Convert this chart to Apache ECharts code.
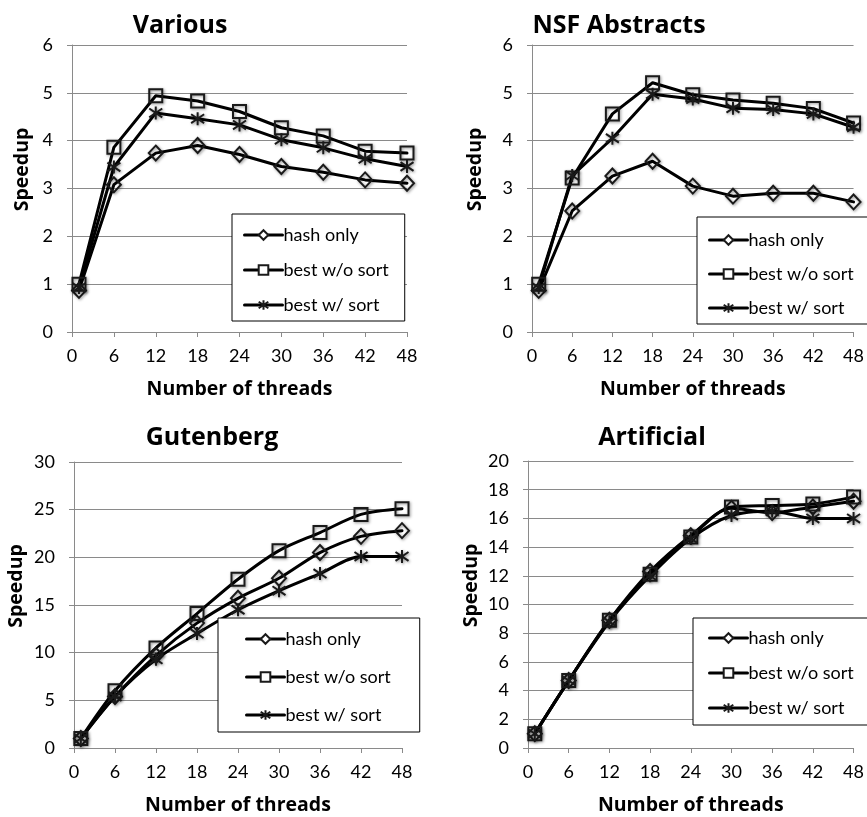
<!DOCTYPE html>
<html>
<head>
<meta charset="utf-8">
<script src="https://cdn.jsdelivr.net/npm/echarts@6/dist/echarts.min.js"></script>
<style>
  html, body { margin: 0; padding: 0; background: #ffffff; }
  #chart { width: 867px; height: 817px; }
</style>
</head>
<body>
<div id="chart"></div>
<script>
// Thread counts measured on the x axis
const threads = [1, 6, 12, 18, 24, 30, 36, 42, 48];
const seriesNames = ['hash only', 'best w/o sort', 'best w/ sort'];
const panelTitles = ['Various', 'NSF Abstracts', 'Gutenberg', 'Artificial'];

// Speedup per data set
const variousHash = [0.87, 3.08, 3.74, 3.90, 3.71, 3.46, 3.34, 3.18, 3.11];
const variousNoSort = [1.00, 3.86, 4.94, 4.83, 4.61, 4.27, 4.10, 3.78, 3.74];
const variousSort = [0.93, 3.45, 4.58, 4.46, 4.33, 4.02, 3.85, 3.62, 3.46];

const nsfHash = [0.87, 2.53, 3.26, 3.57, 3.05, 2.84, 2.90, 2.90, 2.72];
const nsfNoSort = [1.00, 3.22, 4.56, 5.21, 4.96, 4.85, 4.78, 4.67, 4.37];
const nsfSort = [0.93, 3.27, 4.05, 4.97, 4.87, 4.68, 4.65, 4.56, 4.28];

const gutenbergHash = [1.0, 5.4, 9.7, 13.1, 15.7, 17.8, 20.5, 22.2, 22.8];
const gutenbergNoSort = [1.0, 6.0, 10.5, 14.1, 17.7, 20.7, 22.6, 24.5, 25.1];
const gutenbergSort = [1.0, 5.4, 9.3, 12.0, 14.5, 16.5, 18.3, 20.1, 20.1];

const artificialHash = [1.0, 4.7, 8.9, 12.3, 14.8, 16.7, 16.4, 16.8, 17.2];
const artificialNoSort = [1.0, 4.7, 8.9, 12.1, 14.7, 16.8, 16.9, 17.0, 17.5];
const artificialSort = [1.0, 4.7, 8.8, 12.0, 14.6, 16.2, 16.5, 16.0, 16.0];

// y-axis ranges per panel
const yMax = [6, 6, 30, 20];
const yStep = [1, 1, 5, 2];

const panelData = [
  [variousHash, variousNoSort, variousSort],
  [nsfHash, nsfNoSort, nsfSort],
  [gutenbergHash, gutenbergNoSort, gutenbergSort],
  [artificialHash, artificialNoSort, artificialSort]
];

// ---- layout and styling ----
const FONT = 'Lato, "Open Sans", sans-serif';
const BOLD_FONT = '"Open Sans", Lato, sans-serif';
const GRID_COLOR = '#8a8a8a';

const grids = [
  { left: 72, top: 45, width: 335, height: 287 },
  { left: 532, top: 45, width: 328, height: 287 },
  { left: 74, top: 462, width: 328, height: 286 },
  { left: 528, top: 461, width: 329, height: 287 }
];
const titlePos = [
  { x: 175, y: 8 }, { x: 614, y: 8 }, { x: 207, y: 420 }, { x: 647, y: 420 }
];
const legendPos = [
  { left: 232, top: 214, gap: 17, padding: [12, 16, 7, 11] },
  { left: 697, top: 217, gap: 16, padding: [14, 30, 7, 11] },
  { left: 218, top: 618, gap: 20, padding: [12, 29, 8, 27] },
  { left: 693, top: 618, gap: 17, padding: [11, 30, 8, 15] }
];
const yNameGap = [40, 47, 48, 47];
const smoothing = [false, false, 0.3, 0.3];

const STAR = 'path://M5,0L5,10M0.8,1.6L9.2,8.4M9.2,1.6L0.8,8.4';
const markers = [
  { symbol: 'diamond', size: [14, 15] },
  { symbol: 'rect', size: 13 },
  { symbol: STAR, size: [13, 13] }
];

const markerStyle = {
  color: 'rgba(255,255,255,0)',
  borderColor: '#1a1a1a',
  borderWidth: 2,
  shadowColor: 'rgba(0,0,0,0.45)',
  shadowBlur: 3,
  shadowOffsetX: 1,
  shadowOffsetY: 1
};

const option = {
  backgroundColor: '#ffffff',
  animation: false,
  title: panelTitles.map((t, i) => ({
    text: t,
    left: titlePos[i].x,
    top: titlePos[i].y,
    textAlign: 'center',
    textStyle: { fontFamily: BOLD_FONT, fontWeight: 'bold', fontSize: 25, color: '#000' }
  })),
  grid: grids.map(g => Object.assign({ containLabel: false }, g)),
  xAxis: grids.map((g, i) => ({
    type: 'value',
    gridIndex: i,
    min: 0,
    max: 48,
    interval: 6,
    name: 'Number of threads',
    nameLocation: 'middle',
    nameGap: 47,
    nameTextStyle: { fontFamily: BOLD_FONT, fontWeight: 'bold', fontSize: 19.5, color: '#000' },
    axisLine: { show: true, lineStyle: { color: GRID_COLOR, width: 1 } },
    axisTick: { show: true, inside: false, length: 5, lineStyle: { color: GRID_COLOR } },
    axisLabel: { margin: 15, fontFamily: FONT, fontSize: 18, color: '#000' },
    splitLine: { show: false }
  })),
  yAxis: grids.map((g, i) => ({
    type: 'value',
    gridIndex: i,
    min: 0,
    max: yMax[i],
    interval: yStep[i],
    name: 'Speedup',
    nameLocation: 'middle',
    nameGap: yNameGap[i],
    nameTextStyle: { fontFamily: BOLD_FONT, fontWeight: 'bold', fontSize: 19.5, color: '#000', padding: [0, 0, 0, 38] },
    axisLine: { show: true, lineStyle: { color: GRID_COLOR, width: 1 } },
    axisTick: { show: true, inside: false, length: 5, lineStyle: { color: GRID_COLOR } },
    axisLabel: { margin: 19, fontFamily: FONT, fontSize: 18, color: '#000' },
    splitLine: { show: true, lineStyle: { color: GRID_COLOR, width: 1 } }
  })),
  legend: legendPos.map(p => ({
    orient: 'vertical',
    left: p.left,
    top: p.top,
    itemGap: p.gap,
    itemWidth: 38,
    itemHeight: 12,
    padding: p.padding,
    backgroundColor: '#ffffff',
    borderColor: '#000000',
    borderWidth: 1,
    borderRadius: 0,
    selectedMode: false,
    textStyle: { fontFamily: FONT, fontSize: 18, color: '#000', padding: [0, 0, 0, -4] },
    data: seriesNames.map(n => ({
      name: n,
      itemStyle: { color: '#ffffff', borderWidth: 2, shadowBlur: 0, shadowOffsetX: 0, shadowOffsetY: 0 },
      lineStyle: { width: 3, color: '#000000' }
    }))
  })),
  series: []
};

panelData.forEach((sets, p) => {
  sets.forEach((vals, s) => {
    option.series.push({
      type: 'line',
      name: seriesNames[s],
      xAxisIndex: p,
      yAxisIndex: p,
      data: threads.map((t, k) => [t, vals[k]]),
      symbol: markers[s].symbol,
      symbolSize: markers[s].size,
      showAllSymbol: true,
      smooth: smoothing[p],
      lineStyle: { color: '#000000', width: 3, join: 'round', cap: 'round' },
      itemStyle: markerStyle,
      emphasis: { disabled: true }
    });
  });
});

const chart = echarts.init(document.getElementById('chart'), null, { renderer: 'canvas' });
chart.setOption(option);
</script>
</body>
</html>
